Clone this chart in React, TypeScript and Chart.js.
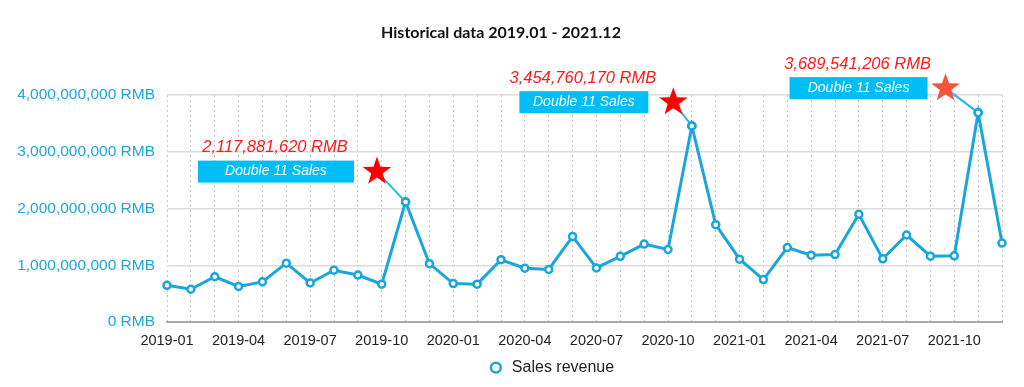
import React, { useEffect, useRef } from 'react';
import { Chart, registerables } from 'chart.js';

Chart.register(...registerables);

const months = [
  '2019-01', '2019-02', '2019-03', '2019-04', '2019-05', '2019-06', '2019-07', '2019-08', '2019-09', '2019-10', '2019-11', '2019-12',
  '2020-01', '2020-02', '2020-03', '2020-04', '2020-05', '2020-06', '2020-07', '2020-08', '2020-09', '2020-10', '2020-11', '2020-12',
  '2021-01', '2021-02', '2021-03', '2021-04', '2021-05', '2021-06', '2021-07', '2021-08', '2021-09', '2021-10', '2021-11', '2021-12',
];

const salesRevenue = [
  650000000, 580000000, 800000000, 630000000, 710000000, 1040000000, 690000000, 915000000, 830000000, 670000000, 2117881620, 1030000000,
  680000000, 670000000, 1100000000, 950000000, 930000000, 1510000000, 955000000, 1160000000, 1375000000, 1280000000, 3454760170, 1717000000,
  1110000000, 750000000, 1315000000, 1180000000, 1190000000, 1900000000, 1115000000, 1535000000, 1163000000, 1168000000, 3689541206, 1393000000,
];

const highlightIndexes = [10, 22, 34];
const highlightLabel = 'Double 11 Sales';
const seriesName = 'Sales revenue';
const chartTitle = 'Historical data 2019.01 - 2021.12';

const yMin = 0;
const yMax = 4000000000;
const yStep = 1000000000;

// callout styling (pixel offsets relative to the highlighted data point)
const calloutStyles = [
  { starDx: -28.6, starDy: -30.3, starColor: '#ff0000', boxWidth: 156, boxGap: 23 },
  { starDx: -18.5, starDy: -23.8, starColor: '#ff0000', boxWidth: 129, boxGap: 25 },
  { starDx: -32.6, starDy: -24.5, starColor: '#f5533b', boxWidth: 138, boxGap: 18 },
];

const LINE_COLOR = '#18a6dc';
const fmt = (v: number) => v.toLocaleString('en-US') + ' RMB';

function drawStar(ctx: CanvasRenderingContext2D, cx: number, cy: number, R: number, r: number, color: string) {
  ctx.beginPath();
  for (let i = 0; i < 10; i++) {
    const rad = i % 2 === 0 ? R : r;
    const a = -Math.PI / 2 + (i * Math.PI) / 5;
    const x = cx + rad * Math.cos(a);
    const y = cy + rad * Math.sin(a);
    if (i === 0) ctx.moveTo(x, y);
    else ctx.lineTo(x, y);
  }
  ctx.closePath();
  ctx.fillStyle = color;
  ctx.fill();
}

const calloutPlugin = {
  id: 'callouts',
  afterDraw(chart: any) {
    const { ctx } = chart;
    const xs = chart.scales.x;
    const ys = chart.scales.y;
    highlightIndexes.forEach((idx, k) => {
      const st = calloutStyles[k];
      const px = xs.getPixelForValue(idx);
      const py = ys.getPixelForValue(salesRevenue[idx]);
      const sx = px + st.starDx;
      const sy = py + st.starDy;
      ctx.save();
      // connector
      ctx.strokeStyle = '#2fb3e4';
      ctx.lineWidth = 2;
      ctx.beginPath();
      ctx.moveTo(sx, sy);
      ctx.lineTo(px, py);
      ctx.stroke();
      // re-draw the point over connector
      ctx.beginPath();
      ctx.arc(px, py, 3.5, 0, Math.PI * 2);
      ctx.fillStyle = '#ffffff';
      ctx.fill();
      ctx.lineWidth = 2.5;
      ctx.strokeStyle = LINE_COLOR;
      ctx.stroke();
      // star
      drawStar(ctx, sx, sy, 15, 6, st.starColor);
      // box
      const boxRight = sx - st.boxGap;
      const boxLeft = boxRight - st.boxWidth;
      const boxTop = sy - 11;
      ctx.fillStyle = '#00bdf7';
      ctx.fillRect(boxLeft, boxTop, st.boxWidth, 22);
      ctx.fillStyle = '#ffffff';
      ctx.font = 'italic 14px "Liberation Sans", Arial, sans-serif';
      ctx.textAlign = 'center';
      ctx.textBaseline = 'middle';
      ctx.fillText(highlightLabel, boxLeft + st.boxWidth / 2, boxTop + 11);
      // value
      ctx.fillStyle = '#ff1a1a';
      ctx.font = 'italic 16.5px "Liberation Sans", Arial, sans-serif';
      ctx.fillText(fmt(salesRevenue[idx]), boxLeft + st.boxWidth / 2 - 1, boxTop - 13);
      ctx.restore();
    });
  },
};

const shiftPlugin = {
  id: 'shiftBlocks',
  afterLayout(chart: any) {
    if (chart.legend) {
      chart.legend.left += 50;
      chart.legend.right += 50;
    }
  },
};

export default function App() {
  const ref = useRef<HTMLCanvasElement | null>(null);
  useEffect(() => {
    if (!ref.current) return;
    const chart = new Chart(ref.current, {
      type: 'line',
      data: {
        labels: months,
        datasets: [
          {
            label: seriesName,
            data: salesRevenue,
            borderColor: LINE_COLOR,
            backgroundColor: '#ffffff',
            borderWidth: 3,
            tension: 0,
            pointRadius: 3.5,
            pointBorderWidth: 2.5,
            pointBackgroundColor: '#ffffff',
            pointBorderColor: LINE_COLOR,
            pointStyle: 'circle',
          },
        ],
      },
      options: {
        responsive: false,
        animation: false,
        layout: { padding: { left: 0, right: 22, top: 0, bottom: 1.4 } },
        plugins: {
          title: {
            display: true,
            text: chartTitle,
            color: '#111111',
            font: { family: 'Lato, "Open Sans", sans-serif', size: 16, weight: 'bold' },
            padding: { top: 23.5, bottom: 52.3 },
          },
          legend: {
            display: true,
            position: 'bottom',
            labels: {
              usePointStyle: true,
              boxWidth: 16,
              boxHeight: 7,
              color: '#222222',
              font: { family: '"Liberation Sans", Arial, sans-serif', size: 16 },
              padding: 10,
            },
          },
          tooltip: { enabled: false },
        },
        scales: {
          x: {
            offset: false,
            grid: { color: '#c4c4c4', lineWidth: 1, drawTicks: false },
            border: { display: true, color: '#a9a9a9', width: 2, dash: [2, 3] },
            ticks: {
              autoSkip: false,
              maxRotation: 0,
              minRotation: 0,
              padding: 10,
              color: '#222222',
              font: { family: '"Liberation Sans", Arial, sans-serif', size: 14.5 },
              callback: (_v: any, i: number) => (i % 3 === 0 ? months[i] : ''),
            },
            afterFit: (scale: any) => {
              scale.height = 27.4;
            },
          },
          y: {
            min: yMin,
            max: yMax,
            grid: { color: '#dcdcdc', lineWidth: 1.5, drawTicks: false },
            border: { display: false },
            ticks: {
              stepSize: yStep,
              padding: 12,
              color: '#1ea6dc',
              font: { family: '"Liberation Sans", Arial, sans-serif', size: 15.5 },
              callback: (v: any) => fmt(Number(v)),
            },
            afterFit: (scale: any) => {
              scale.width = 167;
            },
          },
        },
      },
      plugins: [calloutPlugin, shiftPlugin],
    });
    return () => chart.destroy();
  }, []);
  return (
    <div style={{ position: 'fixed', left: 0, top: 0, width: 1024, height: 387, background: '#ffffff' }}>
      <canvas ref={ref} width={1024} height={387} style={{ display: 'block' }} />
    </div>
  );
}
